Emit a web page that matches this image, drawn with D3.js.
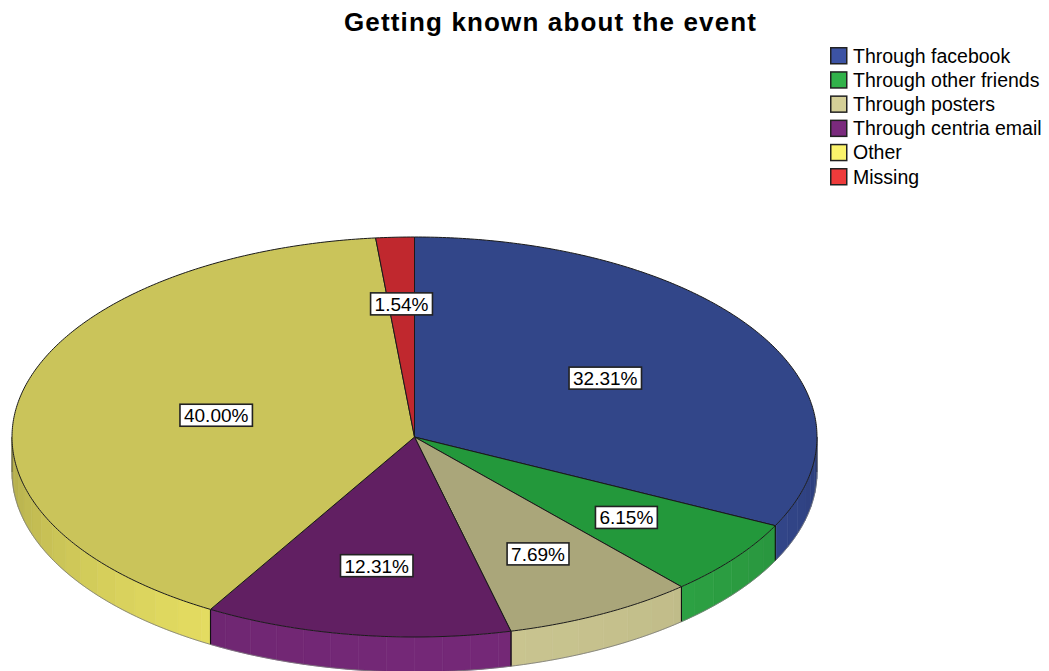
<!DOCTYPE html>
<html>
<head>
<meta charset="utf-8">
<script src="https://cdn.jsdelivr.net/npm/d3@7"></script>
<style>
  html, body { margin: 0; padding: 0; background: #fff; }
  svg { display: block; }
</style>
</head>
<body>
<svg id="chart" width="1049" height="671"></svg>
<script>
const title = "Getting known about the event";
const categories = ["Through facebook", "Through other friends", "Through posters", "Through centria email", "Other", "Missing"];
const percents = [32.31, 6.15, 7.69, 12.31, 40.00, 1.54];
const percentLabels = ["32.31%", "6.15%", "7.69%", "12.31%", "40.00%", "1.54%"];
const legendColors = ["#3c53a4", "#31b24a", "#d4cf97", "#7a2a7d", "#fbf36b", "#ee3b3b"];
const topColors = ["#324689", "#23983b", "#aaa67a", "#611f62", "#cac45a", "#c0282e"];

const W = 1049, H = 671;
const cx = 414.5, cy = 437, rx = 402.5, ry = 200, depth = 35;
const FONT = "Liberation Sans, Arial, sans-serif";

const svg = d3.select("#chart");

// title
svg.append("text")
  .attr("x", 550).attr("y", 31)
  .attr("text-anchor", "middle")
  .attr("font-family", FONT)
  .attr("font-weight", "bold")
  .attr("font-size", 26)
  .attr("textLength", 412)
  .attr("lengthAdjust", "spacing")
  .attr("fill", "#000")
  .text(title);

// pie geometry
const data = categories.map((c, i) => ({ cat: c, value: percents[i], i }));
const arcs = d3.pie().sort(null).value(d => d.value).startAngle(0).endAngle(2 * Math.PI)(data);

const rScale = d3.scaleLinear().domain([0, 1]).range([0, 1]);
function pt(phi, r = 1, dy = 0) {
  return [cx + rx * rScale(r) * Math.sin(phi), cy - ry * rScale(r) * Math.cos(phi) + dy];
}
function arcPoints(a0, a1, r = 1, dy = 0) {
  const n = Math.max(2, Math.ceil(Math.abs(a1 - a0) / 0.01));
  const pts = [];
  for (let k = 0; k <= n; k++) pts.push(pt(a0 + (a1 - a0) * k / n, r, dy));
  return pts;
}
const line = d3.line();
const lineClosed = d3.line().curve(d3.curveLinearClosed);

const gSide = svg.append("g");
const gTop = svg.append("g");
const gLab = svg.append("g");

// side walls (visible between 90° and 270°)
const vis0 = Math.PI / 2, vis1 = 3 * Math.PI / 2;
const band = 4 * Math.PI / 180;
function lightFactor(phi) {
  return 0.72 + 0.23 * Math.max(0, Math.cos(phi - 175 * Math.PI / 180));
}
arcs.forEach(a => {
  const s0 = Math.max(a.startAngle, vis0), s1 = Math.min(a.endAngle, vis1);
  if (s1 <= s0) return;
  const base = d3.rgb(legendColors[a.index]);
  let edges = [s0];
  let g = Math.ceil(s0 / band) * band;
  while (g < s1) { if (g > s0 + 1e-6) edges.push(g); g += band; }
  edges.push(s1);
  for (let k = 0; k < edges.length - 1; k++) {
    const e0 = edges[k], e1 = edges[k + 1];
    const f = lightFactor((e0 + e1) / 2);
    const col = d3.rgb(base.r * f, base.g * f, base.b * f);
    const pts = arcPoints(e0, e1, 1, 0).concat(arcPoints(e1, e0, 1, depth));
    gSide.append("path")
      .attr("d", lineClosed(pts))
      .attr("fill", col.formatHex())
      .attr("stroke", col.formatHex())
      .attr("stroke-width", 0.6);
  }
  [a.startAngle, a.endAngle].forEach(b => {
    if (b > vis0 + 1e-6 && b < vis1 - 1e-6) {
      gSide.append("path")
        .attr("d", line([pt(b, 1, 0), pt(b, 1, depth)]))
        .attr("stroke", "#111").attr("stroke-width", 1.1).attr("fill", "none");
    }
  });
});
gSide.append("path")
  .attr("d", line(arcPoints(vis0, vis1, 1, depth)))
  .attr("fill", "none").attr("stroke", "#777").attr("stroke-width", 0.8);
gSide.append("path")
  .attr("d", line([pt(vis0, 1, 0), pt(vis0, 1, depth)]))
  .attr("fill", "none").attr("stroke", "#333").attr("stroke-width", 0.8);
gSide.append("path")
  .attr("d", line([pt(vis1, 1, 0), pt(vis1, 1, depth)]))
  .attr("fill", "none").attr("stroke", "#333").attr("stroke-width", 0.8);

// top faces
arcs.forEach(a => {
  const pts = [[cx, cy]].concat(arcPoints(a.startAngle, a.endAngle));
  gTop.append("path")
    .attr("d", lineClosed(pts))
    .attr("fill", topColors[a.index])
    .attr("stroke", "#1a1a1a")
    .attr("stroke-width", 1)
    .attr("stroke-linejoin", "round");
});

// labels at sector centroid
arcs.forEach(a => {
  const th = a.endAngle - a.startAngle;
  const frac = 4 * Math.sin(th / 2) / (3 * th);
  const mid = (a.startAngle + a.endAngle) / 2;
  const [lx, ly] = pt(mid, frac);
  const g = gLab.append("g");
  const t = g.append("text")
    .attr("x", lx).attr("y", ly + 7)
    .attr("text-anchor", "middle")
    .attr("font-family", FONT)
    .attr("font-size", 19)
    .attr("fill", "#000")
    .text(percentLabels[a.index]);
  const w = t.node().getComputedTextLength();
  g.insert("rect", "text")
    .attr("x", lx - w / 2 - 4).attr("y", ly - 11)
    .attr("width", w + 8).attr("height", 22)
    .attr("fill", "#fff").attr("stroke", "#222").attr("stroke-width", 1.6);
});

// legend
const lg = svg.append("g").attr("transform", "translate(830,47)");
categories.forEach((c, i) => {
  const row = lg.append("g").attr("transform", `translate(0,${i * 24.2})`);
  row.append("rect")
    .attr("x", 0.75).attr("y", 0.75).attr("width", 16).attr("height", 16)
    .attr("fill", legendColors[i]).attr("stroke", "#222").attr("stroke-width", 1.5);
  row.append("text")
    .attr("x", 23).attr("y", 15.5)
    .attr("font-family", FONT)
    .attr("font-size", 19.5)
    .attr("fill", "#000")
    .text(c);
});
</script>
</body>
</html>
